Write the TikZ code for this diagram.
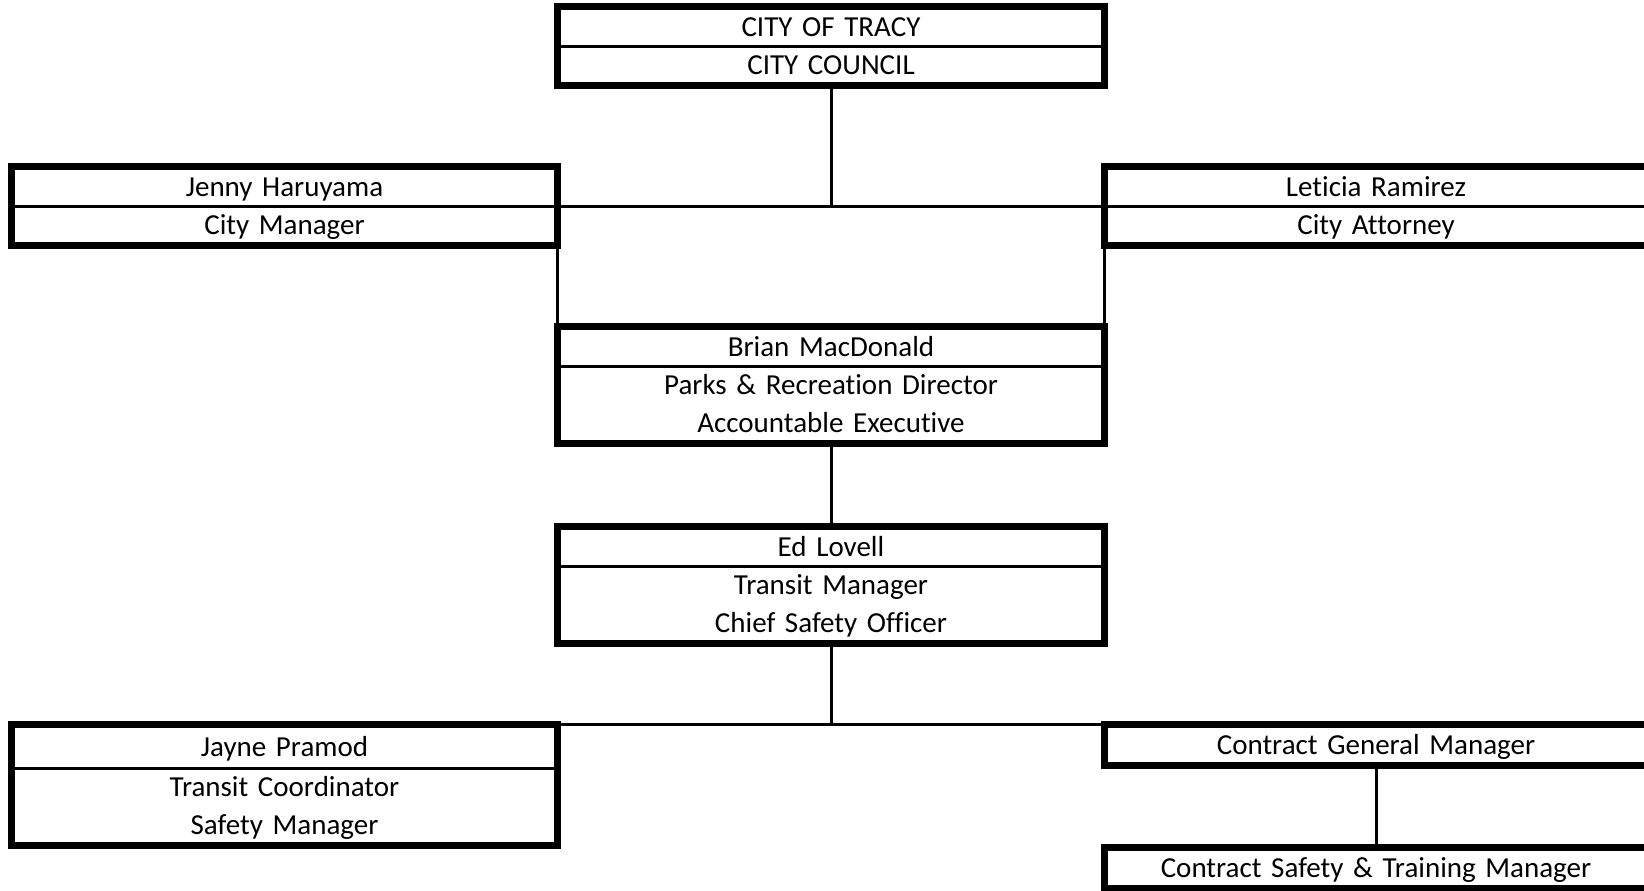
\documentclass[tikz,border=0pt]{standalone}
\usepackage{fontspec}
\setmainfont{Carlito}[Ligatures=NoCommon]
\usetikzlibrary{shapes.multipart,positioning}

\newcommand{\orgfont}{\fontsize{14.5pt}{19pt}\selectfont}
\newcommand{\orgrow}[2][0pt]{\rule[\dimexpr-4.08pt-#1\relax]{0pt}{\dimexpr17.5pt+#1+#1\relax}#2}

\begin{document}
\begin{tikzpicture}[semithick, node distance=40.5pt]
    \tikzstyle{orgbox}=[draw, line width=1.5pt, inner sep=0pt, align=center, font=\orgfont]
    \tikzstyle{splitbox}=[orgbox, rectangle split, rectangle split parts=2]
    \tikzstyle{onebox}=[orgbox, inner ysep=0.75pt]
    \tikzstyle{boxframe}=[line width=3.4pt]
    \tikzstyle{link}=[line width=1.5pt]

    \useasboundingbox (0,0) rectangle (822pt,-445pt);

    \node[splitbox, text width=272pt, anchor=north] (council) at (415.5pt,-3.3pt)
        {\orgrow{CITY OF TRACY} \nodepart{two} \orgrow{CITY COUNCIL}};  % council
    \node[splitbox, text width=271.5pt] (manager) [below left=40.5pt and 0pt of council]
        {\orgrow{Jenny Haruyama} \nodepart{two} \orgrow{City Manager}};  % city manager
    \node[splitbox, text width=270pt] (attorney) [below right=40.5pt and 0pt of council]
        {\orgrow{Leticia Ramirez} \nodepart{two} \orgrow{City Attorney}};  % city attorney
    \node[splitbox, text width=272pt] (director) [below right=40.5pt and 0pt of manager]
        {\orgrow{Brian MacDonald} \nodepart{two} \orgrow{Parks \& Recreation Director}\\ \orgrow{Accountable Executive}};
    \node[splitbox, text width=272pt] (transit) [below=41.5pt of director]
        {\orgrow{Ed Lovell} \nodepart{two} \orgrow{Transit Manager}\\ \orgrow{Chief Safety Officer}};

    % bottom row
    \node[splitbox, text width=271.5pt] (coordinator) [below left=40.5pt and 0pt of transit]
        {\orgrow[1pt]{Jayne Pramod} \nodepart{two} \orgrow{Transit Coordinator}\\ \orgrow{Safety Manager}};
    \node[onebox, text width=270pt] (contract) [below right=40.5pt and 0pt of transit]
        {\orgrow{Contract General Manager}};
    \node[onebox, text width=270pt] (safety) [below=41pt of contract]
        {\orgrow{Contract Safety \& Training Manager}};

    % heavy frames
    \foreach \n in {council,manager,attorney,director,transit,coordinator,contract,safety}
        \draw[boxframe] (\n.north west) rectangle (\n.south east);

    % lines
    \draw[link] (council.south) -- (council.south |- manager.text split east);
    \draw[link] (manager.text split east) -- (attorney.text split west);
    \draw[link] (manager.south east) -- (director.north west);
    \draw[link] (attorney.south west) -- (director.north east);
    \draw[link] (director.south) -- (transit.north);
    \draw[link] (transit.south) -- (transit.south |- coordinator.north);
    \draw[link] (coordinator.north east) -- (contract.north west);
    \draw[link] (contract.south) -- (safety.north);
\end{tikzpicture}
\end{document}
